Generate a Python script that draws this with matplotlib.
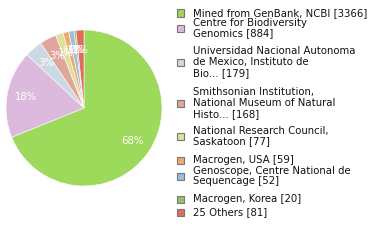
import matplotlib
matplotlib.use("Agg")
import matplotlib.pyplot as plt
from matplotlib.patches import Rectangle

# data
labels = ["Mined from GenBank, NCBI [3366]",
          "Centre for Biodiversity\nGenomics [884]",
          "Universidad Nacional Autonoma\nde Mexico, Instituto de\nBio... [179]",
          "Smithsonian Institution,\nNational Museum of Natural\nHisto... [168]",
          "National Research Council,\nSaskatoon [77]",
          "Macrogen, USA [59]",
          "Genoscope, Centre National de\nSequencage [52]",
          "Macrogen, Korea [20]",
          "25 Others [81]"]
counts = [3366, 884, 179, 168, 77, 59, 52, 20, 81]
colors = ["#9dd95b", "#dcbadd", "#cbd9e4", "#e0a59b", "#dde19c",
          "#eeab70", "#9dbadf", "#97bf6e", "#de6e57"]

# legend square centres, in pixels from top
leg_y = [13, 28, 62, 103, 136, 160, 176, 199, 212]

W, H = 380, 240
fig = plt.figure(figsize=(W / 100, H / 100), dpi=100)

# pie: centre ~ (84,108), radius ~78 px
ax = fig.add_axes([(84 - 78) / W, 1 - (108 + 78) / H, 156 / W, 156 / H])


def pct(p):
    return "%d%%" % int(p)


wedges, texts, autotexts = ax.pie(counts, colors=colors, startangle=90,
                                  counterclock=False, autopct=pct,
                                  pctdistance=0.75,
                                  wedgeprops=dict(linewidth=0.4, edgecolor="white"),
                                  textprops=dict(color="white", fontsize=7.3))
ax.set_aspect("equal")
ax.set_xlim(-1, 1)
ax.set_ylim(-1, 1)

# legend drawn by hand
for lab, col, y in zip(labels, colors, leg_y):
    fig.patches.append(Rectangle((177 / W, 1 - (y + 3.5) / H), 7 / W, 7 / H,
                                 transform=fig.transFigure, facecolor=col,
                                 edgecolor="#777777", linewidth=0.8))
    fig.text(193 / W, 1 - y / H, lab, fontsize=7.3, va="center", ha="left",
             color="#111111", linespacing=1.1)

fig.savefig("out.png", dpi=100)
